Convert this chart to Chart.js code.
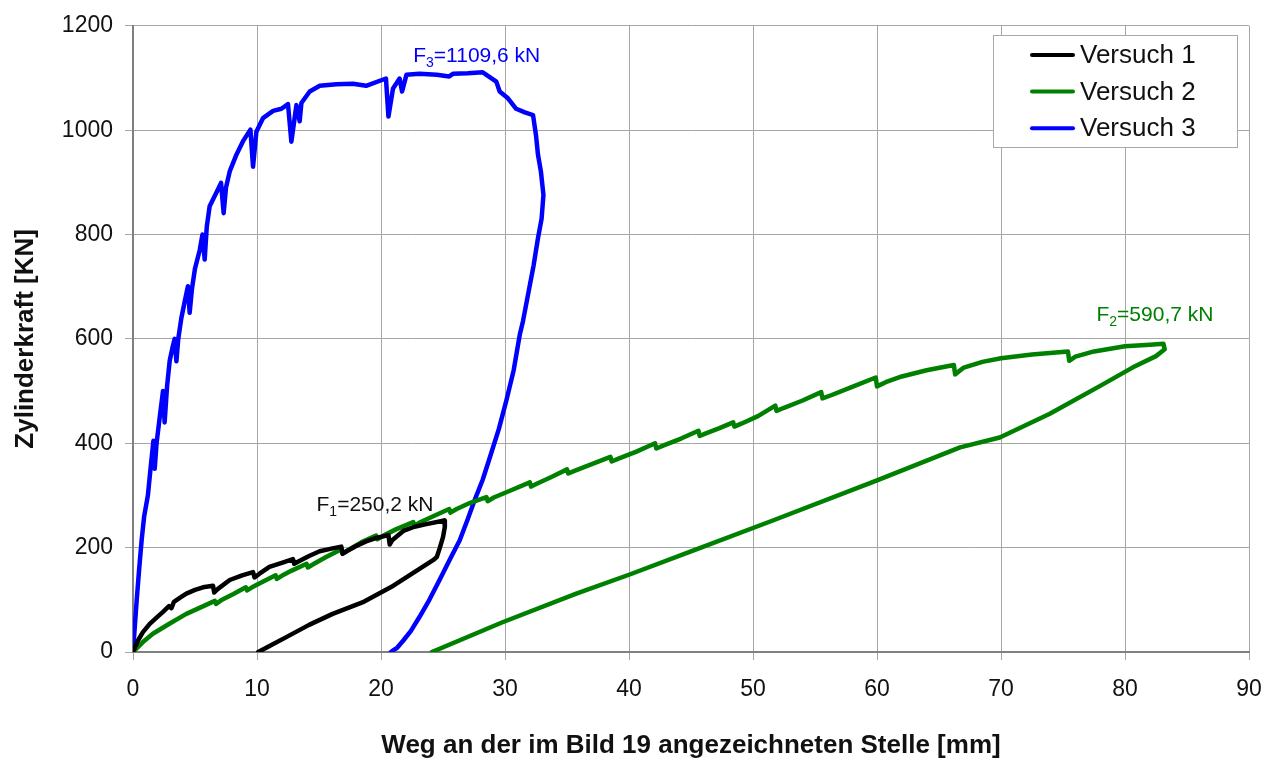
<!DOCTYPE html>
<html>
<head>
<meta charset="utf-8">
<script src="https://cdn.jsdelivr.net/npm/chart.js@4/dist/chart.umd.min.js"></script>
<style>
  body { margin: 0; background: #fff; }
</style>
</head>
<body>
<canvas id="myChart" width="1283" height="765"></canvas>
<script>
// Weg [mm] / Zylinderkraft [kN]
var versuch1 = [[0,0],[0.4,22],[0.8,38],[1.35,54],[1.9,66],[2.42,77],[2.9,88],[3.1,84],[3.3,96],[3.8,104],[4.3,112],
  [5.0,119],[5.65,124],[6.45,127],[6.55,114],[6.8,120],[7.8,138],[8.8,147],[9.68,153],[9.8,143],[10.2,150],[11.0,163],
  [12.0,171],[12.9,178],[13.0,169],[13.3,173],[14.2,184],[15.05,193],[16.0,198],[16.8,202],[16.9,188],[17.3,194],
  [18.0,203],[18.8,212],[19.7,219],[20.6,224],[20.7,206],[20.9,214],[21.8,232],[22.7,240],[23.66,245],[25.1,252],
  [25.15,240],[25.0,220],[24.75,200],[24.5,182],[24.2,176],[21.0,127],[18.5,95],[16.1,73],[14.2,52],[12.4,29],
  [11.2,14],[10.1,0]];

var versuch2 = [[0,0],[0.8,19],[1.6,35],[3.0,55],[4.3,73],[5.5,86],[6.6,98],[6.7,92],[7.1,99],[8.1,111],[9.1,124],
  [9.2,118],[9.6,124],[10.5,135],[11.5,147],[11.6,140],[12.0,146],[12.8,156],[14.0,169],[14.1,162],[14.6,169],
  [15.5,181],[16.8,197],[16.9,189],[17.4,196],[18.4,210],[19.6,223],[19.7,216],[20.2,223],[21.2,235],[22.6,249],
  [22.7,242],[23.2,249],[24.3,261],[25.5,274],[25.6,267],[26.1,274],[27.2,286],[28.5,297],[28.6,289],[29.1,296],
  [30.4,309],[32.0,325],[32.1,317],[32.6,323],[33.7,335],[35.0,350],[35.1,342],[35.6,347],[37.0,360],[38.5,374],
  [38.6,365],[39.2,371],[40.6,384],[42.1,400],[42.2,390],[42.8,396],[44.2,409],[45.6,424],[45.7,414],[46.2,419],
  [47.3,429],[48.4,440],[48.5,432],[49.1,438],[50.4,452],[51.8,472],[51.9,462],[52.5,468],[54.0,482],[55.5,498],
  [55.6,486],[56.3,492],[58.0,508],[59.9,526],[60.0,509],[60.7,517],[62.0,528],[64.0,540],[66.2,550],[66.3,532],
  [67.0,545],[68.5,556],[70.0,563],[72.5,570],[75.4,576],[75.5,558],[76.0,566],[77.5,576],[80.0,586],[82.0,589],
  [83.1,590.7],[83.2,580],[82.5,567],[80.6,545],[78.0,510],[73.9,456],[69.9,411],[66.7,392],[59.9,328],[51.6,252],
  [45.0,193],[40.0,148],[35.75,112],[29.8,57],[24.1,0]];

var versuch3 = [[0,0],[0.15,50],[0.3,100],[0.5,160],[0.7,215],[0.9,260],[1.2,300],[1.45,360],[1.65,405],[1.75,351],
  [1.9,400],[2.15,449],[2.42,500],[2.55,440],[2.75,510],[2.96,558],[3.2,585],[3.36,600],[3.5,557],[3.65,600],
  [3.9,640],[4.2,675],[4.43,701],[4.57,650],[4.75,695],[5.0,735],[5.38,770],[5.6,800],[5.78,752],[5.95,815],
  [6.18,854],[6.72,880],[7.1,899],[7.31,841],[7.5,890],[7.8,921],[8.34,953],[8.9,980],[9.47,1001],[9.68,930],
  [9.95,997],[10.48,1023],[11.3,1037],[11.97,1041],[12.5,1050],[12.77,978],[13.18,1048],[13.44,1017],[13.58,1052],
  [14.25,1074],[15.06,1085],[16.4,1088],[17.74,1089],[18.8,1085],[20.4,1099],[20.6,1026],[20.97,1080],[21.5,1099],
  [21.7,1074],[22.05,1106],[23.1,1108],[24.5,1106],[25.5,1103],[25.8,1108],[27.0,1109],[28.2,1111],[28.5,1106],
  [29.3,1093],[29.57,1074],[30.24,1061],[30.9,1041],[31.6,1034],[32.26,1029],[32.5,990],[32.66,953],[32.9,920],
  [33.1,876],[32.95,830],[32.66,793],[32.3,740],[31.9,690],[31.45,634],[31.2,609],[30.7,540],[30.1,481],[29.5,427],
  [28.7,367],[28.2,330],[27.6,294],[27.0,255],[26.35,214],[25.5,175],[24.7,137],[23.9,100],[23.1,67],[22.4,40],
  [21.8,22],[21.3,8],[20.97,3],[20.8,0]];

var seriesNames = ['Versuch 1', 'Versuch 2', 'Versuch 3'];
var seriesColors = ['#000000', '#008000', '#0000ff'];

// peak labels: [F, index, rest, x anchor mm, y baseline kN]
var peakLabels = [
  ['F', '1', '=250,2 kN', 14.8, 271],
  ['F', '2', '=590,7 kN', 77.7, 634],
  ['F', '3', '=1109,6 kN', 22.6, 1131]
];

var xMin = 0, xMax = 90, xStep = 10;
var yMin = 0, yMax = 1200, yStep = 200;

var FONT = "'Liberation Sans', Arial, sans-serif";
Chart.defaults.font.family = FONT;
Chart.defaults.color = '#000';

function toPoints(arr) {
  return arr.map(function (p) { return { x: p[0], y: p[1] }; });
}

// legend box drawn inside the plot, top right
var legendBox = {
  id: 'legendBox',
  afterDraw: function (chart) {
    var ctx = chart.ctx;
    ctx.save();
    ctx.fillStyle = '#fff';
    ctx.fillRect(993, 35, 244, 112);
    ctx.strokeStyle = '#a8a8a8';
    ctx.lineWidth = 1;
    ctx.strokeRect(993.5, 35.5, 244, 112);
    ctx.font = '26px ' + FONT;
    ctx.textBaseline = 'middle';
    chart.data.datasets.forEach(function (ds, i) {
      var y = 55 + i * 36.6;
      ctx.strokeStyle = ds.borderColor;
      ctx.lineWidth = 4;
      ctx.lineCap = 'round';
      ctx.beginPath();
      ctx.moveTo(1032, y);
      ctx.lineTo(1073, y);
      ctx.stroke();
      ctx.fillStyle = '#111';
      ctx.fillText(ds.label, 1080, y + 1);
    });
    ctx.restore();
  }
};

var peakText = {
  id: 'peakText',
  afterDatasetsDraw: function (chart) {
    var ctx = chart.ctx;
    var xs = chart.scales.x, ys = chart.scales.y;
    ctx.save();
    ctx.textBaseline = 'alphabetic';
    peakLabels.forEach(function (l, i) {
      var x = xs.getPixelForValue(l[3]);
      var y = ys.getPixelForValue(l[4]);
      ctx.fillStyle = seriesColors[i] === '#000000' ? '#111' : seriesColors[i];
      ctx.font = '21px ' + FONT;
      ctx.fillText(l[0], x, y);
      x += ctx.measureText(l[0]).width;
      ctx.font = '14px ' + FONT;
      ctx.fillText(l[1], x, y + 5);
      x += ctx.measureText(l[1]).width;
      ctx.font = '21px ' + FONT;
      ctx.fillText(l[2], x, y);
    });
    ctx.restore();
  }
};

var ctx = document.getElementById('myChart').getContext('2d');
var chart = new Chart(ctx, {
  type: 'scatter',
  data: {
    datasets: [versuch1, versuch2, versuch3].map(function (d, i) {
      return {
        label: seriesNames[i],
        data: toPoints(d),
        showLine: true,
        borderColor: seriesColors[i],
        backgroundColor: seriesColors[i],
        borderWidth: 4.5,
        borderJoinStyle: 'round',
        borderCapStyle: 'round',
        pointRadius: 0,
        tension: 0
      };
    })
  },
  options: {
    responsive: false,
    animation: false,
    layout: { padding: { left: 0, top: 24, right: 34, bottom: 0 } },
    plugins: {
      legend: { display: false },
      tooltip: { enabled: false }
    },
    scales: {
      x: {
        type: 'linear',
        min: xMin, max: xMax,
        afterFit: function (s) { s.height = 113; },
        ticks: { stepSize: xStep, padding: 16, font: { size: 23 }, color: '#111',
          callback: function (v) { return String(v); } },
        grid: { color: '#a6a6a6', lineWidth: 1, tickLength: 8 },
        border: { color: '#808080', width: 2 },
        title: {
          display: true,
          text: 'Weg an der im Bild 19 angezeichneten Stelle [mm]',
          font: { size: 26, weight: 'bold' },
          color: '#111',
          padding: { top: 0, bottom: 4 }
        }
      },
      y: {
        type: 'linear',
        min: yMin, max: yMax,
        afterFit: function (s) { s.width = 133; },
        ticks: { stepSize: yStep, padding: 12, font: { size: 23 }, color: '#111',
          callback: function (v) { return String(v); } },
        grid: { color: '#a6a6a6', lineWidth: 1, tickLength: 8 },
        border: { color: '#808080', width: 2 },
        title: {
          display: true,
          text: 'Zylinderkraft [KN]',
          font: { size: 26, weight: 'bold' },
          color: '#111',
          padding: { top: 10, bottom: 0 }
        }
      }
    }
  },
  plugins: [peakText, legendBox]
});
</script>
</body>
</html>
